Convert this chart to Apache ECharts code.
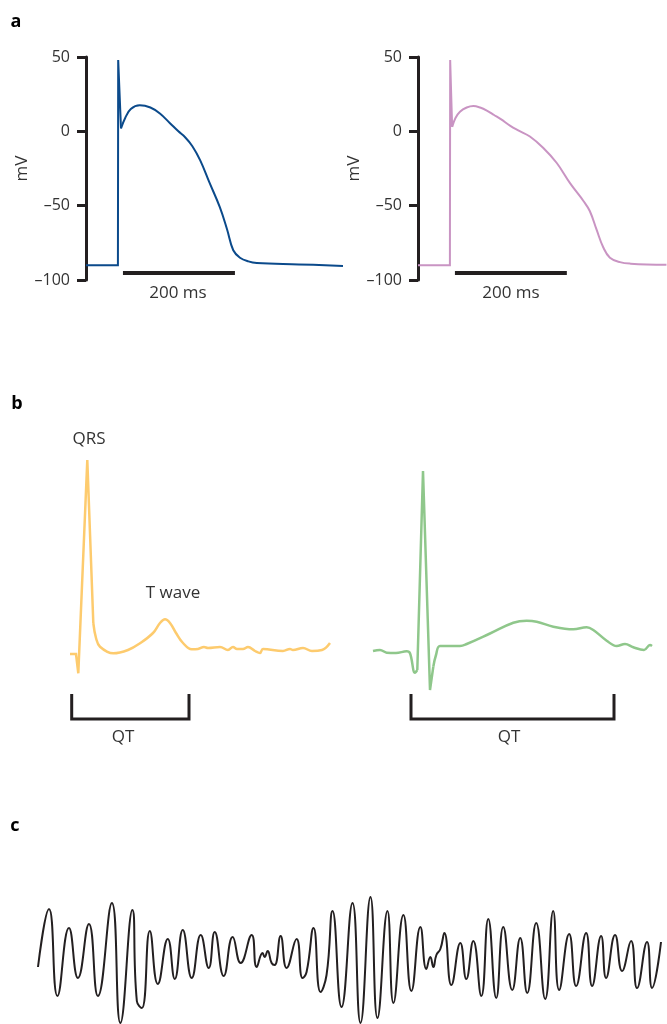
<!DOCTYPE html>
<html>
<head>
    <meta charset="utf-8">
    <title>Action potentials and ECG</title>
    <script src="https://cdn.jsdelivr.net/npm/echarts@6/dist/echarts.min.js"></script>
    <style>
        body { margin: 0; background: #fff; }
        #main { width: 667px; height: 1024px; }
    </style>
</head>
<body>
<div id="main"></div>
<script type="text/javascript">
    // panel a: action potentials (time in ms, voltage in mV)
    var apMsLeft = [0, 57, 57.5, 62.5, 70, 80, 96, 115, 132, 150, 165, 177, 190, 204, 220, 239, 252, 263, 275, 290, 305, 380, 459];
    var apMvLeft = [-90, -90, 48, 2, 9, 15, 17.5, 16, 12, 5.5, 0, -4, -10, -19.5, -34, -51, -66, -80, -85, -87.5, -88.6, -89.5, -90.5];
    var apMsRight = [0, 57, 57.5, 61, 67, 75, 87, 99, 111, 123, 136, 148, 165, 180, 200, 224, 248, 272, 296, 307, 319, 331, 343, 361, 380, 444];
    var apMvRight = [-90, -90, 48, 3, 9, 13.2, 16, 17, 16, 14, 11, 8.2, 3.7, 0.5, -3.5, -11.2, -21.3, -35, -47, -53.6, -66, -78, -85, -88, -89, -89.8];
    var mvTicks = [-100, -50, 0, 50];
    var scaleBarMs = [66, 266];
    var scaleBarMv = -95.3;

    // panel b: ECG beats (arbitrary time / amplitude units)
    var ecgXLeft = [0, 6, 8.3, 17.3, 18.3, 23.3, 26, 30, 43.3, 58, 70, 83, 90, 95, 100, 106, 113, 121.7, 128, 134, 138, 150, 158, 163, 167, 173, 178, 185, 190, 193, 213, 220, 223, 233, 242, 252, 260];
    var ecgYLeft = [0, 0, -19.3, 194, 194, 31, 16, 7.3, 0.7, 4, 10.7, 21, 31, 34.7, 31, 21, 11, 4.7, 5, 7, 6, 7, 4, 7, 5, 5, 7, 3, 1, 5, 3, 5, 4, 6, 3, 4, 11];
    var ecgXRight = [0, 7, 13.7, 23, 33.7, 37, 42, 44.3, 50, 52, 57, 60.3, 63, 67, 87, 93.7, 117, 140.3, 153.7, 163.7, 180.3, 200.3, 213.7, 220.3, 233.7, 243.7, 252, 260.3, 271, 277, 279];
    var ecgYRight = [3, 4, 1.3, 1, 2.7, 0.7, -18.7, -16, 183, 183, -36, -12.7, -1, 8, 8, 10, 20.5, 31.3, 33.3, 32.3, 27.3, 24.7, 26.7, 24, 13.3, 8, 10, 6.7, 4, 9, 8];
    var qtLeft = [1.7, 119];
    var qtRight = [38, 241];
    var qtTop = -40, qtBottom = -65;

    // panel c: fibrillation trace
    var vfX = [0, 11, 19.5, 31, 40, 51, 60, 74, 82.5, 94.5, 99, 104, 112, 120, 130, 137, 145, 154, 163, 171, 177, 186, 195, 203, 214, 219, 225, 227, 230, 234, 237, 243, 249, 259, 265, 269, 276, 283, 289, 295, 304, 315, 323, 333, 340, 350, 356, 366, 374, 383, 389, 393, 396, 399, 403, 407, 414, 423, 429, 436, 444, 451, 459, 466, 475, 483, 490, 499, 508, 516, 522, 532, 539, 549, 555, 564, 569, 578, 585, 594, 600, 610, 615, 624];
    var vfY = [-2, 56, -31, 37, -13, 41, -31, 62, -58, 55, -36, -43, 34, -19, 26, -14, 35, -13, 30, -3, 33, -11, 28, 2, 30, -2, 12, 8, 14, 2, 0, 29, -3, 26, -13, -7, 37, -27, -10, 54, -42, 62, -58, 68, -53, 54, -38, 50, -26, 38, -4, 8, -2, 10, 16, 32, -20, 22, -14, 24, -31, 46, -33, 38, -25, 27, -28, 42, -34, 54, -25, 31, -21, 32, -21, 29, -13, 30, -6, 24, -23, 23, -23, 23];

    var FONT = "'Open Sans', 'Noto Sans', sans-serif";
    var INK = '#231f20';

    function zip(xs, ys) {
        return xs.map(function (x, i) { return [x, ys[i]]; });
    }
    function line(idx, data, color, width, smooth) {
        return {
            type: 'line', xAxisIndex: idx, yAxisIndex: idx, data: data,
            symbol: 'none', smooth: smooth, silent: true,
            lineStyle: { color: color, width: width, join: 'miter', cap: 'butt' }
        };
    }
    function mvAxis(idx) {
        return {
            type: 'value', gridIndex: idx, min: -100, max: 50, interval: 50,
            name: 'mV', nameLocation: 'middle', nameRotate: 90, nameGap: 48,
            nameTextStyle: { fontSize: 17, color: '#333', fontFamily: FONT },
            axisLine: { show: true, lineStyle: { color: INK, width: 3 } },
            axisTick: { show: true, length: 9, lineStyle: { color: INK, width: 3 } },
            axisLabel: {
                fontSize: 16, color: '#333', fontFamily: FONT, margin: 16,
                formatter: function (v) { return mvTicks.indexOf(v) >= 0 ? String(v).replace('-', '\u2013') : ''; }
            },
            splitLine: { show: false }
        };
    }
    function hidden(idx, min, max) {
        return { type: 'value', gridIndex: idx, min: min, max: max, show: false, splitLine: { show: false } };
    }

    var apL = zip(apMsLeft, apMvLeft);
    var apR = zip(apMsRight, apMvRight);
    var ecgL = zip(ecgXLeft, ecgYLeft);
    var ecgR = zip(ecgXRight, ecgYRight);
    var barL = scaleBarMs.map(function (t) { return [t, scaleBarMv]; });
    var bracket = function (xs) {
        return [[xs[0], qtTop], [xs[0], qtBottom], [xs[1], qtBottom], [xs[1], qtTop]];
    };

    var myChart = echarts.init(document.getElementById('main'));

    var txt = function (text, x, y, size, weight) {
        return {
            type: 'text', x: x, y: y,
            style: {
                text: text, fill: weight ? '#000' : '#333', fontSize: size, fontFamily: FONT,
                fontWeight: weight || 'normal', align: 'center', verticalAlign: 'middle',
                textAlign: 'center', textVerticalAlign: 'middle'
            }
        };
    };

    option = {
        animation: false,
        backgroundColor: '#fff',
        grid: [
            { left: 86, top: 57, width: 257, height: 223 },
            { left: 418, top: 57, width: 249, height: 223 },
            { left: 70, top: 440, width: 260, height: 300 },
            { left: 373, top: 440, width: 280, height: 300 },
            { left: 38, top: 890, width: 630, height: 134 }
        ],
        xAxis: [
            hidden(0, 0, 459),
            hidden(1, 0, 445),
            hidden(2, 0, 260),
            hidden(3, 0, 280),
            hidden(4, 0, 630)
        ],
        yAxis: [
            mvAxis(0),
            mvAxis(1),
            hidden(2, -86, 214),
            hidden(3, -86, 214),
            hidden(4, -59, 75)
        ],
        graphic: [
            txt('a', 16, 22, 18, 'bold'),
            txt('b', 17, 404, 18, 'bold'),
            txt('c', 15, 826, 18, 'bold'),
            txt('200 ms', 178, 293, 17),
            txt('200 ms', 511, 293, 17),
            txt('QRS', 89, 439, 17),
            txt('T wave', 173, 593, 17),
            txt('QT', 123, 737, 17),
            txt('QT', 509, 737, 17)
        ],
        series: [
            // a
            line(0, apL.slice(0, 4), '#0b4a8b', 2, false),
            line(0, apL.slice(3), '#0b4a8b', 2, 0.4),
            line(0, barL, INK, 4, false),
            line(1, apR.slice(0, 4), '#c994c3', 2, false),
            line(1, apR.slice(3), '#c994c3', 2, 0.4),
            line(1, barL, INK, 4, false),
            // b
            line(2, ecgL.slice(0, 6), '#fdcb6e', 2.5, false),
            line(2, ecgL.slice(5), '#fdcb6e', 2.5, 0.4),
            line(2, bracket(qtLeft), INK, 3, false),
            line(3, ecgR.slice(0, 8), '#8fc78b', 2.5, 0.4),
            line(3, ecgR.slice(7, 12), '#8fc78b', 2.5, false),
            line(3, ecgR.slice(11), '#8fc78b', 2.5, 0.4),
            line(3, bracket(qtRight), INK, 3, false),
            // c
            line(4, zip(vfX, vfY), INK, 2, 0.5)
        ]
    };

    myChart.setOption(option);
</script>
</body>
</html>
